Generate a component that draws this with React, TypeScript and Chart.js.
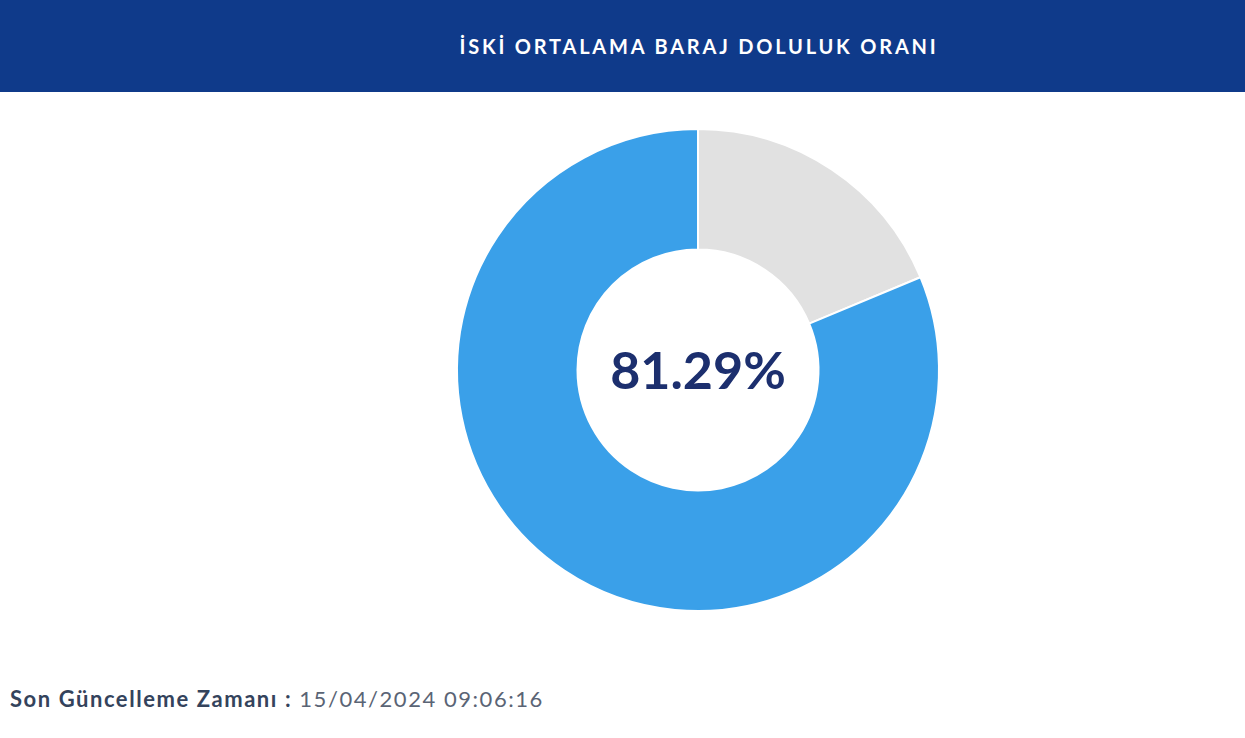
import { useEffect, useRef } from "react"
import { Chart, registerables } from "chart.js"

Chart.register(...registerables)

const labels = ["Boş", "Dolu"]
const fillValues = [18.71, 81.29]
const segmentColors = ["#e1e1e1", "#3aa0e9"]
const title = "İSKİ ORTALAMA BARAJ DOLULUK ORANI"
const updateLabel = "Son Güncelleme Zamanı :"
const updateTime = "15/04/2024 09:06:16"

// draws the filled percentage in the hole of the doughnut
const centerText = {
  id: "centerText",
  afterDraw(chart: Chart) {
    const arc: any = chart.getDatasetMeta(0).data[0]
    if (!arc) return
    const ctx = chart.ctx
    ctx.save()
    ctx.font = "bold 52px Lato"
    ctx.fillStyle = "#1c2f6e"
    ctx.textAlign = "center"
    ctx.textBaseline = "middle"
    ctx.fillText(fillValues[1].toFixed(2) + "%", arc.x, arc.y + 2)
    ctx.restore()
  },
}

export default function App() {
  const chartRef = useRef<HTMLCanvasElement>(null)
  const chartInstance = useRef<Chart | null>(null)

  useEffect(() => {
    document.body.style.margin = "0"
    if (!chartRef.current) return
    if (chartInstance.current) chartInstance.current.destroy()
    const ctx = chartRef.current.getContext("2d")
    if (!ctx) return

    chartInstance.current = new Chart(ctx, {
      type: "doughnut",
      data: {
        labels,
        datasets: [
          {
            data: fillValues,
            backgroundColor: segmentColors,
            borderColor: "#ffffff",
            borderWidth: 2,
          },
        ],
      },
      options: {
        animation: false,
        responsive: false,
        maintainAspectRatio: false,
        cutout: "50%",
        layout: { padding: 8 },
        plugins: {
          legend: { display: false },
          tooltip: { enabled: false },
        },
      },
      plugins: [centerText],
    })

    return () => {
      if (chartInstance.current) {
        chartInstance.current.destroy()
        chartInstance.current = null
      }
    }
  }, [])

  return (
    <div
      style={{
        position: "relative",
        width: 1245,
        height: 738,
        background: "#ffffff",
        overflow: "hidden",
        fontFamily: "Lato, 'Open Sans', sans-serif",
      }}
    >
      <div
        style={{
          position: "absolute",
          left: 0,
          top: 0,
          width: 1245,
          height: 92,
          background: "#0f3a8a",
        }}
      >
        <div
          style={{
            position: "absolute",
            left: 3,
            width: 1392,
            top: 32,
            textAlign: "center",
            color: "#ffffff",
            fontWeight: 700,
            fontSize: 20,
            letterSpacing: 2.8,
            lineHeight: "28px",
            whiteSpace: "nowrap",
          }}
        >
          {title}
        </div>
      </div>
      <canvas
        ref={chartRef}
        width={500}
        height={500}
        style={{ position: "absolute", left: 448, top: 120, width: 500, height: 500 }}
      />
      <div
        style={{
          position: "absolute",
          left: 10,
          top: 685,
          fontSize: 22,
          letterSpacing: 1.55,
          lineHeight: "28px",
          whiteSpace: "nowrap",
        }}
      >
        <span style={{ fontWeight: 700, color: "#34435c" }}>{updateLabel}</span>
        <span style={{ color: "#5a6475" }}> {updateTime}</span>
      </div>
    </div>
  )
}
